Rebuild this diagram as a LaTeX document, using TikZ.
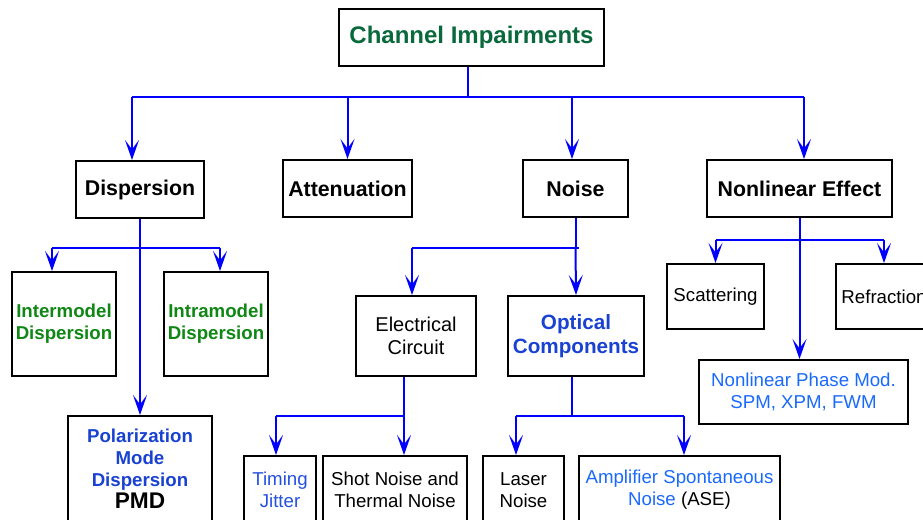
\documentclass[tikz,border=0pt]{standalone}
\usepackage{fontspec}
\setmainfont{Liberation Sans}
\usepackage{xcolor}
\usetikzlibrary{arrows.meta,calc}
\definecolor{titlegreen}{RGB}{10,105,60}
\definecolor{dispgreen}{RGB}{15,135,20}
\definecolor{optblue}{RGB}{25,65,210}
\definecolor{jitblue}{RGB}{35,80,225}
\definecolor{lightblue}{RGB}{25,105,255}
\tikzset{
  box/.style={draw, line width=1.5pt, align=center, inner sep=0pt, font=\fontsize{14}{16.5}\selectfont},
  headbox/.style={box, font=\fontsize{16}{19}\selectfont\bfseries},
  subbox/.style={box, font=\fontsize{14}{16.5}\selectfont\bfseries},
  link/.style={blue, line width=1.5pt},
  arr/.style={link, -{Stealth[length=15pt, width=10.5pt, inset=7pt]}}
}
\begin{document}
\begin{tikzpicture}[x=0.75pt, y=-0.75pt]
\useasboundingbox (0,0) rectangle (923,519);
\clip (0,0) rectangle (923,519);

\node[headbox, minimum width=198.75pt, minimum height=42.75pt, font=\fontsize{18}{21}\selectfont\bfseries, text=titlegreen] (top) at (471.5,37) {Channel Impairments};

\node[headbox, minimum width=96pt, minimum height=42.75pt] (disp) at (140,189.5) {Dispersion};
\node[headbox, minimum width=96.75pt, minimum height=42.75pt] (atten) at (347.5,188.5) {Attenuation};
\node[headbox, minimum width=78.75pt, minimum height=42.75pt] (noise) at (575.5,188.5) {Noise};
\node[headbox, minimum width=138.75pt, minimum height=42.75pt] (nonlin) at (799.5,188.5) {Nonlinear Effect};

\node[subbox, minimum width=78pt, minimum height=78pt, text=dispgreen] (inter) at (64,324) {Intermodel\\Dispersion};
\node[subbox, minimum width=78pt, minimum height=78pt, text=dispgreen] (intra) at (216,324) {Intramodel\\Dispersion};
\node[subbox, minimum width=108pt, minimum height=79.5pt, text=optblue] (pmd) at (140,469) {Polarization\\Mode\\Dispersion\\{\color{black}\fontsize{17}{20}\selectfont PMD}};

\node[box, minimum width=90pt, minimum height=60pt, font=\fontsize{15}{17.5}\selectfont] (elec) at (416,336) {Electrical\\Circuit};
\node[subbox, minimum width=102pt, minimum height=60pt, font=\fontsize{15.5}{18}\selectfont\bfseries, text=optblue] (optic) at (576,336) {Optical\\Components};

\node[box, minimum width=54pt, minimum height=51pt, text=jitblue] (timing) at (280,490) {Timing\\Jitter};
\node[box, minimum width=108pt, minimum height=51pt] (shot) at (395,490) {Shot Noise and\\Thermal Noise};
\node[box, minimum width=60.75pt, minimum height=51pt] (laser) at (523.5,490) {Laser\\Noise};
\node[box, minimum width=150.75pt, minimum height=51pt, text=lightblue] (ase) at (679.5,490) {Amplifier Spontaneous\\Noise {\color{black}(ASE)}};

\node[box, minimum width=72.75pt, minimum height=48.75pt] (scat) at (715.5,296.5) {Scattering};
\node[box, minimum width=72pt, minimum height=48.75pt] (refr) at (884,296.5) {Refraction};
\node[box, minimum width=156.75pt, minimum height=48pt, text=lightblue] (npm) at (803.5,392) {Nonlinear Phase Mod.\\SPM, XPM, FWM};

\coordinate (busL) at (132,97);
\coordinate (busR) at (804,97);
\coordinate (busT) at (468,97);
\coordinate (busN) at (572,97);
\draw[link] (top.south -| busT) -- (busT);
\draw[link] (busL) -- (busR);
\draw[arr] (busL) -- (busL |- disp.north);
\draw[arr] (atten.north |- busL) -- (atten.north);
\draw[arr] (busN) -- (busN |- noise.north);
\draw[arr] (busR) -- (busR |- nonlin.north);

\coordinate (dispL) at (52,248);
\coordinate (dispR) at (220,248);
\draw[link] (dispL) -- (dispR);
\draw[arr] (disp.south) -- (pmd.north);
\draw[arr] (dispL) -- (dispL |- inter.north);
\draw[arr] (dispR) -- (dispR |- intra.north);

\coordinate (noiseL) at (412,248);
\coordinate (noiseR) at (579,248);
\draw[link] (noise.south) -- (noise.south |- noiseL);
\draw[link] (noiseL) -- (noiseR);
\draw[arr] (noiseL) -- (noiseL |- elec.north);
\draw[arr] (noise.south |- noiseL) -- (optic.north);

\coordinate (elecL) at (276,416);
\coordinate (elecR) at (404,416);
\draw[link] (elecR |- elec.south) -- (elecR) -- (elecL);
\draw[arr] (elecL) -- (elecL |- timing.north);
\draw[arr] (elecR) -- (elecR |- shot.north);

\coordinate (optL) at (516,416);
\coordinate (optR) at (684,416);
\coordinate (optM) at (572,416);
\draw[link] (optM |- optic.south) -- (optM);
\draw[link] (optL) -- (optR);
\draw[arr] (optL) -- (optL |- laser.north);
\draw[arr] (optR) -- (optR |- ase.north);

\coordinate (nlL) at (716,240);
\coordinate (nlR) at (884,240);
\draw[arr] (nonlin.south) -- (nonlin.south |- npm.north);
\draw[link] (nlL) -- (nlR);
\draw[arr] (scat.north |- nlL) -- (scat.north);
\draw[arr] (nlR) -- (refr.north);
\end{tikzpicture}
\end{document}
